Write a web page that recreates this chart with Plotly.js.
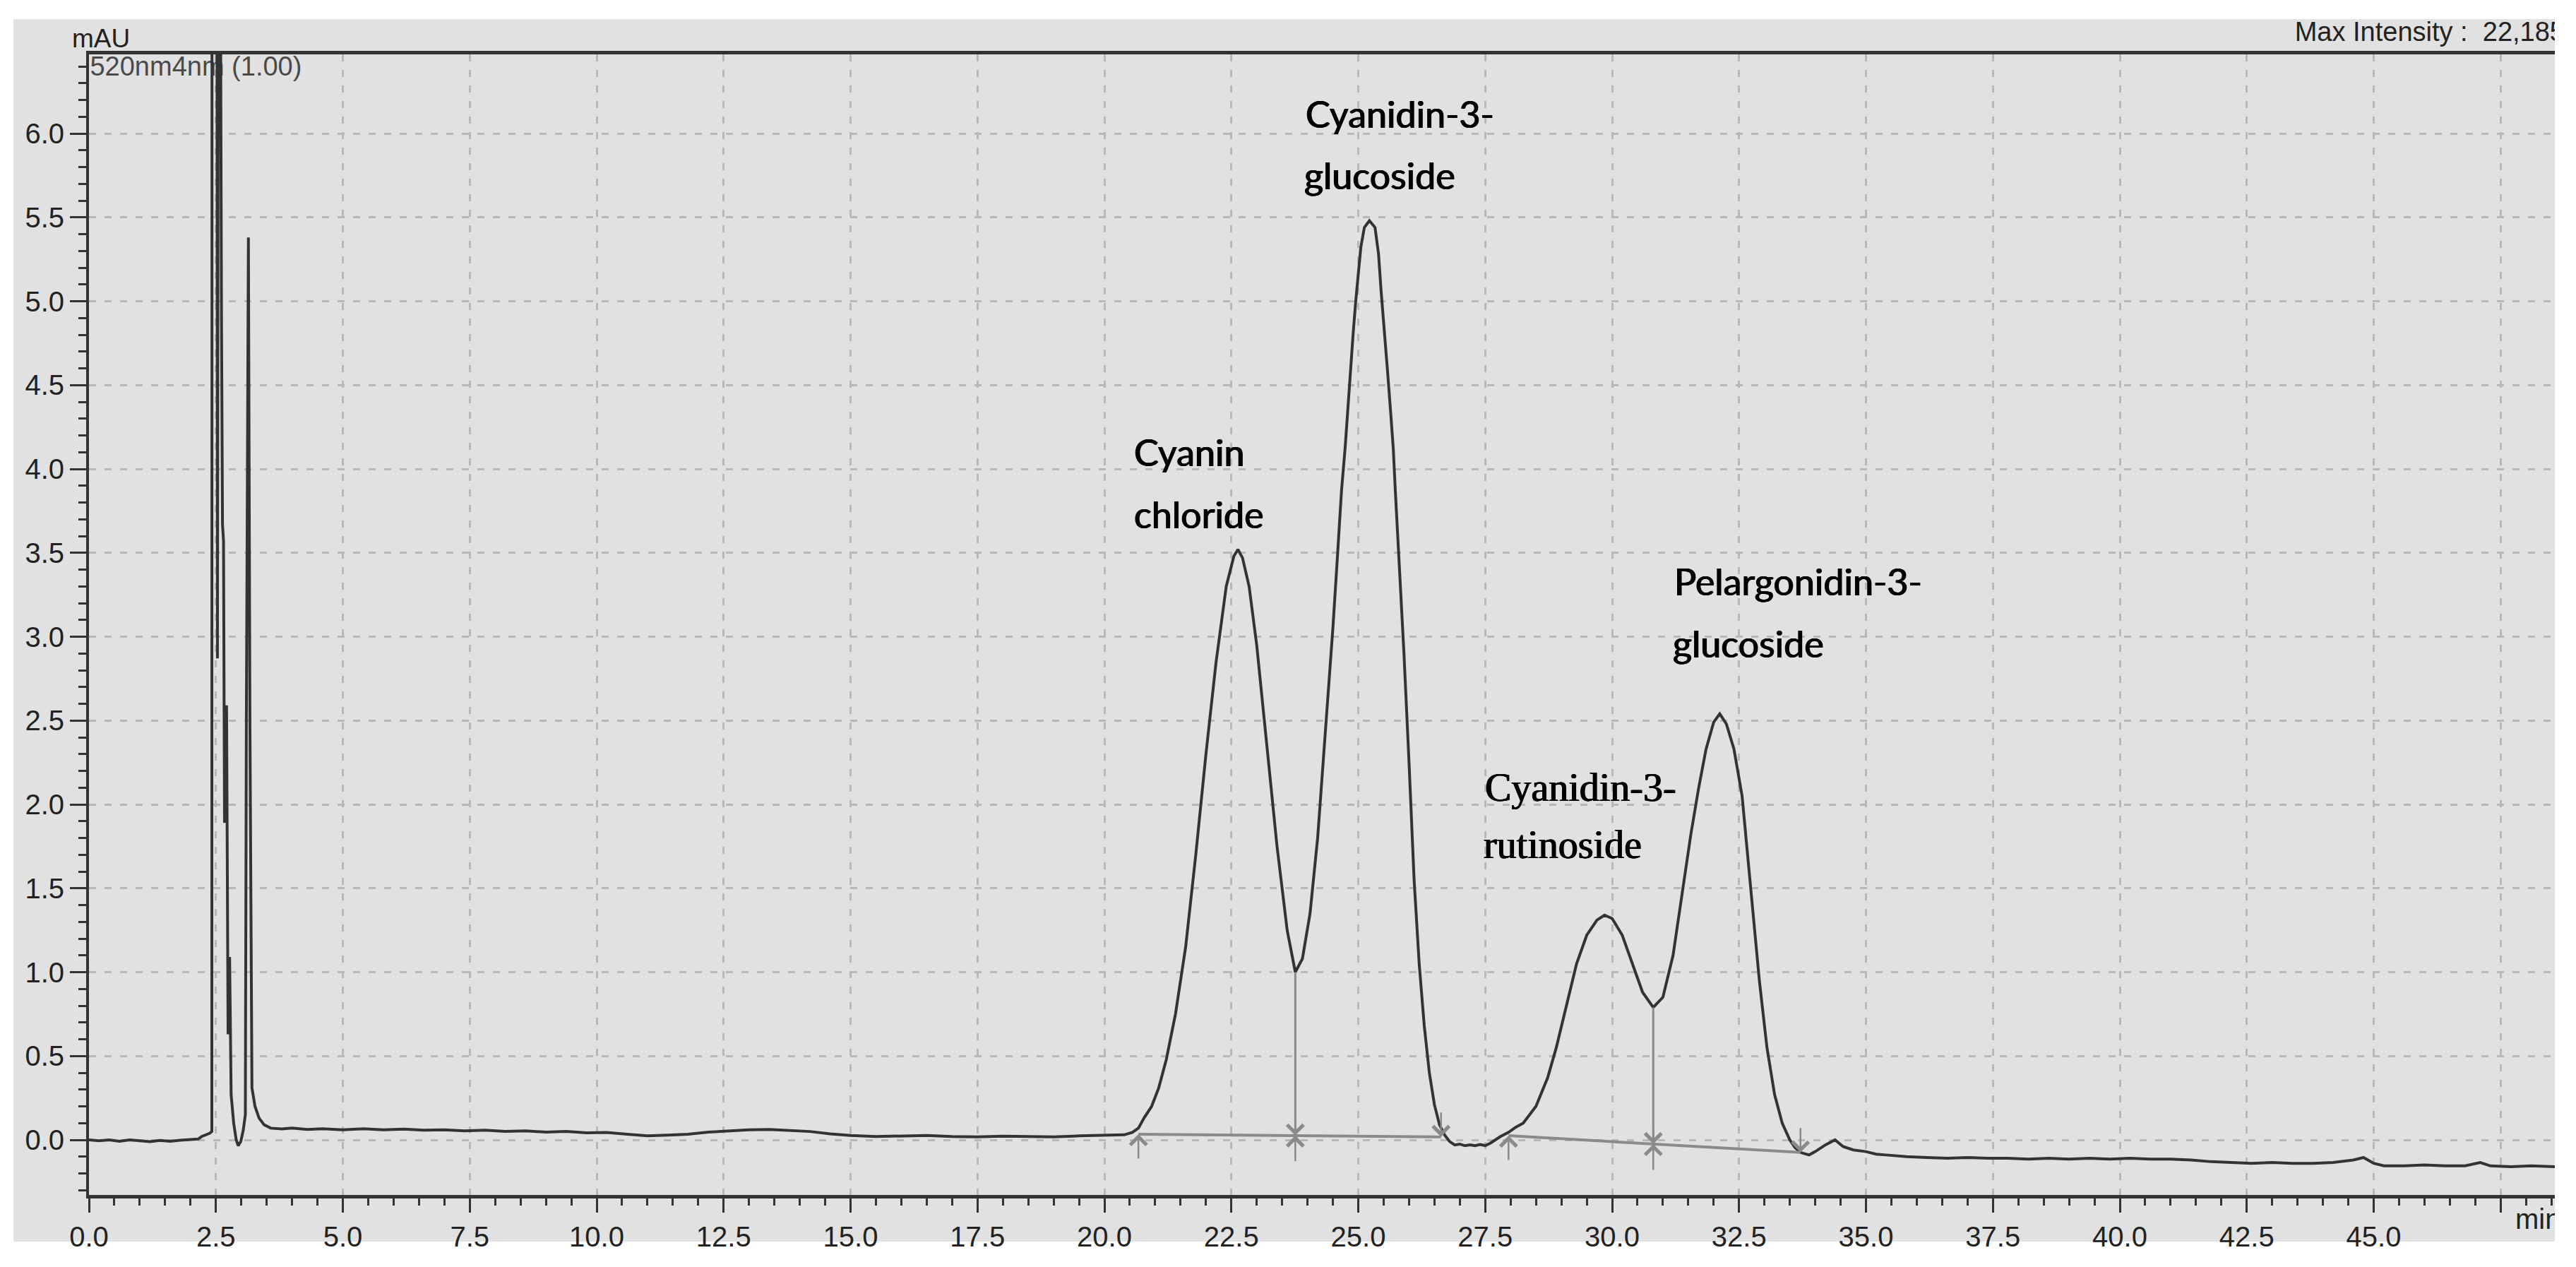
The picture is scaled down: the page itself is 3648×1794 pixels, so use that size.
<!DOCTYPE html>
<html>
<head>
<meta charset="utf-8">
<script src="https://cdn.plot.ly/plotly-3.0.1.min.js"></script>
<style>
html,body{margin:0;padding:0;background:#ffffff;}
#chart{width:3648px;height:1794px;}
</style>
</head>
<body>
<div id="chart"></div>
<script>
// ---------------- DATA ----------------
// retention time (min)
const retentionTime = [
  0.00,0.20,0.40,0.60,0.80,1.00,1.20,1.40,1.60,1.80,2.00,2.15,2.22,2.30,2.38,
  2.42,2.43,2.47,2.51,2.53,2.56,2.61,2.63,2.65,2.67,2.71,2.74,2.77,2.80,2.85,2.90,2.94,2.99,3.04,3.08,3.10,3.14,3.17,3.21,3.27,3.35,3.45,3.58,
  3.80,4.00,4.30,4.60,5.00,5.40,5.80,6.20,6.60,7.00,7.40,7.80,8.20,8.60,9.00,9.40,9.80,10.20,10.60,11.00,11.40,11.80,12.20,12.60,13.00,13.40,13.80,14.20,14.60,15.00,15.50,16.00,16.50,17.00,17.50,18.00,18.50,19.00,19.50,19.80,20.10,20.39,
  20.55,20.67,20.78,20.93,21.07,21.22,21.40,21.60,21.80,22.00,22.20,22.40,22.55,22.63,22.72,22.85,23.00,23.20,23.40,23.60,23.76,
  23.90,24.05,24.20,24.35,24.50,24.58,24.67,24.74,24.80,24.85,24.90,24.95,25.05,25.12,25.22,25.33,25.40,25.45,25.52,25.58,25.64,25.69,25.73,25.77,25.81,25.90,26.00,26.10,26.20,26.30,26.40,26.50,26.60,26.70,26.80,26.90,
  27.00,27.10,27.20,27.30,27.40,27.50,27.60,27.70,27.80,27.96,28.10,
  28.25,28.50,28.73,28.90,29.10,29.30,29.50,29.70,29.85,30.00,30.20,30.40,30.60,30.81,
  31.00,31.20,31.39,31.55,31.70,31.85,32.00,32.12,32.25,32.40,32.56,32.72,32.90,33.05,33.20,33.35,33.50,33.60,33.71,33.88,34.00,34.20,34.39,34.55,34.75,35.00,35.20,35.40,
  35.80,36.20,36.60,37.00,37.40,37.80,38.20,38.60,39.00,39.40,39.80,40.20,40.60,41.00,41.40,41.80,42.20,42.60,43.00,43.40,43.80,44.20,44.60,44.80,45.00,45.20,45.60,46.00,46.40,46.80,47.10,47.30,47.70,48.10,48.60
];
// absorbance (mAU)
const absorbance = [
  0.000,-0.005,0.000,-0.008,0.000,-0.005,-0.010,-0.003,-0.008,-0.002,0.003,0.005,0.020,0.030,0.040,
  0.05,22.1,22.2,12.0,2.87,10.0,4.90,3.67,3.57,1.89,2.59,0.63,1.09,0.27,0.10,0.00,-0.035,-0.01,0.06,0.15,2.50,5.38,2.50,0.31,0.20,0.13,0.09,0.07,
  0.065,0.070,0.062,0.066,0.060,0.066,0.060,0.064,0.058,0.060,0.054,0.058,0.050,0.054,0.046,0.050,0.042,0.044,0.034,0.024,0.028,0.034,0.046,0.055,0.060,0.062,0.056,0.050,0.036,0.026,0.020,0.022,0.026,0.020,0.018,0.022,0.020,0.018,0.024,0.026,0.028,0.030,
  0.045,0.07,0.13,0.20,0.31,0.48,0.75,1.15,1.70,2.30,2.85,3.30,3.48,3.52,3.47,3.30,2.95,2.35,1.75,1.25,1.00,
  1.08,1.35,1.80,2.40,3.05,3.43,3.87,4.12,4.38,4.63,4.81,5.00,5.32,5.44,5.48,5.44,5.28,5.06,4.81,4.57,4.33,4.12,3.87,3.65,3.43,2.90,2.25,1.55,1.05,0.68,0.40,0.21,0.09,0.03,-0.01,-0.03,
  -0.025,-0.035,-0.030,-0.035,-0.028,-0.034,-0.020,0.000,0.020,0.045,0.075,
  0.10,0.20,0.37,0.55,0.80,1.05,1.22,1.31,1.34,1.32,1.22,1.05,0.88,0.79,
  0.85,1.10,1.50,1.82,2.09,2.33,2.49,2.54,2.48,2.33,2.05,1.55,0.95,0.55,0.27,0.10,0.00,-0.045,-0.075,-0.09,-0.07,-0.03,0.00,-0.04,-0.06,-0.07,-0.085,-0.09,
  -0.100,-0.105,-0.110,-0.105,-0.110,-0.110,-0.115,-0.110,-0.115,-0.110,-0.115,-0.110,-0.115,-0.115,-0.120,-0.130,-0.135,-0.140,-0.135,-0.140,-0.140,-0.135,-0.120,-0.105,-0.140,-0.155,-0.155,-0.150,-0.155,-0.155,-0.135,-0.155,-0.160,-0.155,-0.160
];

// integration events (peak baselines)
const integStartTime = [20.67, 27.96];
const integStartLevel = [0.034, 0.025];
const integEndTime = [26.63, 33.71];
const integEndLevel = [0.018, -0.075];
const dropTime = [23.76, 30.81];
const dropBaseLevel = [0.026, -0.025];
const dropValleyLevel = [1.00, 0.79];

// axis ticks
const xTickVals = [0,2.5,5,7.5,10,12.5,15,17.5,20,22.5,25,27.5,30,32.5,35,37.5,40,42.5,45,47.5];
const xTickText = ['0.0','2.5','5.0','7.5','10.0','12.5','15.0','17.5','20.0','22.5','25.0','27.5','30.0','32.5','35.0','37.5','40.0','42.5','45.0',''];

// texts
const channelText = '520nm4nm (1.00)';
const yUnitText = 'mAU';
const xUnitText = 'min';
const maxIntensityText = 'Max Intensity :\u00a0\u00a022,185';
const peakLabels = [
  ['Cyanin','chloride'],
  ['Cyanidin-3-','glucoside'],
  ['Cyanidin-3-','rutinoside'],
  ['Pelargonidin-3-','glucoside']
];

// ---------------- GEOMETRY / STYLE ----------------
const W = 3648, H = 1794;
const mL = 126, mR = 30, mT = 20, mB = 20;
const plotW = W - mL - mR, plotH = H - mT - mB;
const pxPerMin = 71.9, pxPerMAU = 237.5, zeroPx = 1614;
const axisBottomPx = 1692, axisTopPx = 77;
const py = p => (H - mB - p) / plotH;
const pxX = p => (p - mL) / plotW;
const xMax = plotW / pxPerMin;
const yMin = -(axisBottomPx - zeroPx) / pxPerMAU;
const yMax = (zeroPx - axisTopPx) / pxPerMAU;

const tickFont = {family: 'Liberation Sans, Arial, sans-serif', size: 40, color: '#222222'};
const gridColor = '#b8b8b8';
const axisColor = '#333333';
const integColor = '#8a8a8a';
const heavy = '0.7px 0 0 #000, -0.7px 0 0 #000';
const labelFont = {family: 'Lato, Carlito, sans-serif', size: 52, color: '#000000', shadow: heavy};
const serifFont = {family: 'Liberation Serif, Times New Roman, serif', size: 56, color: '#000000', shadow: heavy};

// ---------------- TRACES ----------------
const traces = [];
// channel label (under the trace)
traces.push({
  x: [0.02], y: [(zeroPx - 97) / pxPerMAU], mode: 'text', text: [channelText],
  textposition: 'middle right', textfont: {family: 'Liberation Sans, Arial, sans-serif', size: 38, color: '#4a4a4a'},
  xaxis: 'x', yaxis: 'y', hoverinfo: 'skip', showlegend: false
});
// chromatogram
traces.push({
  x: retentionTime, y: absorbance, mode: 'lines',
  line: {color: '#333333', width: 4},
  xaxis: 'x', yaxis: 'y', hoverinfo: 'skip', showlegend: false
});
// integration baselines
const bx = [], by = [];
integStartTime.forEach((t, i) => {
  bx.push(t, integEndTime[i], null);
  by.push(integStartLevel[i], integEndLevel[i], null);
});
traces.push({x: bx, y: by, mode: 'lines', line: {color: integColor, width: 4}, hoverinfo: 'skip', showlegend: false});
// drop lines
const dx = [], dy = [];
dropTime.forEach((t, i) => {
  dx.push(t, t, null);
  dy.push(dropBaseLevel[i], dropValleyLevel[i], null);
});
traces.push({x: dx, y: dy, mode: 'lines', line: {color: integColor, width: 3}, hoverinfo: 'skip', showlegend: false});
// header / unit texts that are cropped at the panel edge
traces.push({
  x: [(3632 - mL) / pxPerMin], y: [0.5], mode: 'text', text: [maxIntensityText],
  textposition: 'middle left', textfont: {family: 'Liberation Sans, Arial, sans-serif', size: 38, color: '#222222'},
  xaxis: 'x2', yaxis: 'y2', cliponaxis: true, hoverinfo: 'skip', showlegend: false
});
traces.push({
  x: [(3562 - mL) / pxPerMin], y: [0.54], mode: 'text', text: [xUnitText],
  textposition: 'middle right', textfont: tickFont,
  xaxis: 'x2', yaxis: 'y3', cliponaxis: true, hoverinfo: 'skip', showlegend: false
});

// ---------------- ANNOTATIONS ----------------
const annotations = [];
const arrowBase = {xref: 'x', yref: 'y', text: '', showarrow: true, arrowhead: 4, arrowsize: 1.8, arrowwidth: 2.5, arrowcolor: integColor, ax: 0};
integStartTime.forEach((t, i) => annotations.push(Object.assign({}, arrowBase, {x: t, y: integStartLevel[i], ay: 36})));
integEndTime.forEach((t, i) => annotations.push(Object.assign({}, arrowBase, {x: t, y: integEndLevel[i], ay: -36})));
dropTime.forEach((t, i) => {
  annotations.push(Object.assign({}, arrowBase, {x: t, y: dropBaseLevel[i], ay: 38}));
  annotations.push(Object.assign({}, arrowBase, {x: t, y: dropBaseLevel[i], ay: -26}));
});
// peak labels (one annotation per text line, positioned in data space)
const labelPos = [
  [[20.56, 4.10], [20.56, 3.73]],
  [[23.94, 6.12], [23.91, 5.75]],
  [[27.47, 2.10], [27.44, 1.76]],
  [[31.20, 3.33], [31.17, 2.96]]
];
peakLabels.forEach((lines, i) => {
  lines.forEach((txt, j) => {
    annotations.push({
      xref: 'x', yref: 'y', x: labelPos[i][j][0], y: labelPos[i][j][1],
      text: txt, showarrow: false, xanchor: 'left', yanchor: 'middle',
      font: i === 2 ? serifFont : labelFont
    });
  });
});
// y unit
annotations.push({
  xref: 'paper', yref: 'paper', x: pxX(100), y: py(54), text: yUnitText, showarrow: false,
  xanchor: 'left', yanchor: 'middle', font: {family: 'Liberation Sans, Arial, sans-serif', size: 37, color: '#222222'}
});

// ---------------- LAYOUT ----------------
const layout = {
  width: W, height: H,
  margin: {l: mL, r: mR, t: mT, b: mB},
  paper_bgcolor: '#ffffff', plot_bgcolor: 'rgba(0,0,0,0)',
  showlegend: false, hovermode: false,
  xaxis: {
    domain: [0, 1], range: [0, xMax], anchor: 'y',
    tickmode: 'array', tickvals: xTickVals, ticktext: xTickText,
    ticks: 'outside', ticklen: 20, tickwidth: 3, tickcolor: axisColor,
    showline: true, linewidth: 5, linecolor: axisColor, mirror: true,
    showgrid: true, gridcolor: gridColor, gridwidth: 3, griddash: '10px,12px',
    zeroline: false, tickfont: tickFont,
    minor: {dtick: 0.5, tick0: 0, ticks: 'outside', ticklen: 10, tickwidth: 3, tickcolor: axisColor, showgrid: false}
  },
  yaxis: {
    domain: [py(axisBottomPx), py(axisTopPx)], range: [yMin, yMax], anchor: 'x',
    tickmode: 'linear', dtick: 0.5, tick0: 0, tickformat: '.1f',
    ticks: 'outside', ticklen: 23, tickwidth: 3, tickcolor: axisColor,
    showline: true, linewidth: 4, linecolor: axisColor,
    showgrid: true, gridcolor: gridColor, gridwidth: 3, griddash: '10px,12px',
    zeroline: false, tickfont: tickFont,
    minor: {dtick: 0.1, tick0: 0, ticks: 'outside', ticklen: 11, tickwidth: 3, tickcolor: axisColor, showgrid: false}
  },
  xaxis2: {domain: [0, 1], range: [0, xMax], anchor: 'y2', visible: false, showgrid: false, zeroline: false},
  yaxis2: {domain: [py(axisTopPx), 1], range: [0, 1], anchor: 'x2', visible: false, showgrid: false, zeroline: false},
  yaxis3: {domain: [0, py(axisBottomPx)], range: [0, 1], anchor: 'x2', visible: false, showgrid: false, zeroline: false},
  shapes: [{
    type: 'rect', xref: 'paper', yref: 'paper', layer: 'below',
    x0: pxX(19), x1: pxX(3618), y0: py(1758), y1: py(27),
    fillcolor: '#e1e1e1', line: {width: 0}
  }],
  annotations: annotations
};

Plotly.newPlot('chart', traces, layout, {staticPlot: true, displayModeBar: false});
</script>
</body>
</html>
